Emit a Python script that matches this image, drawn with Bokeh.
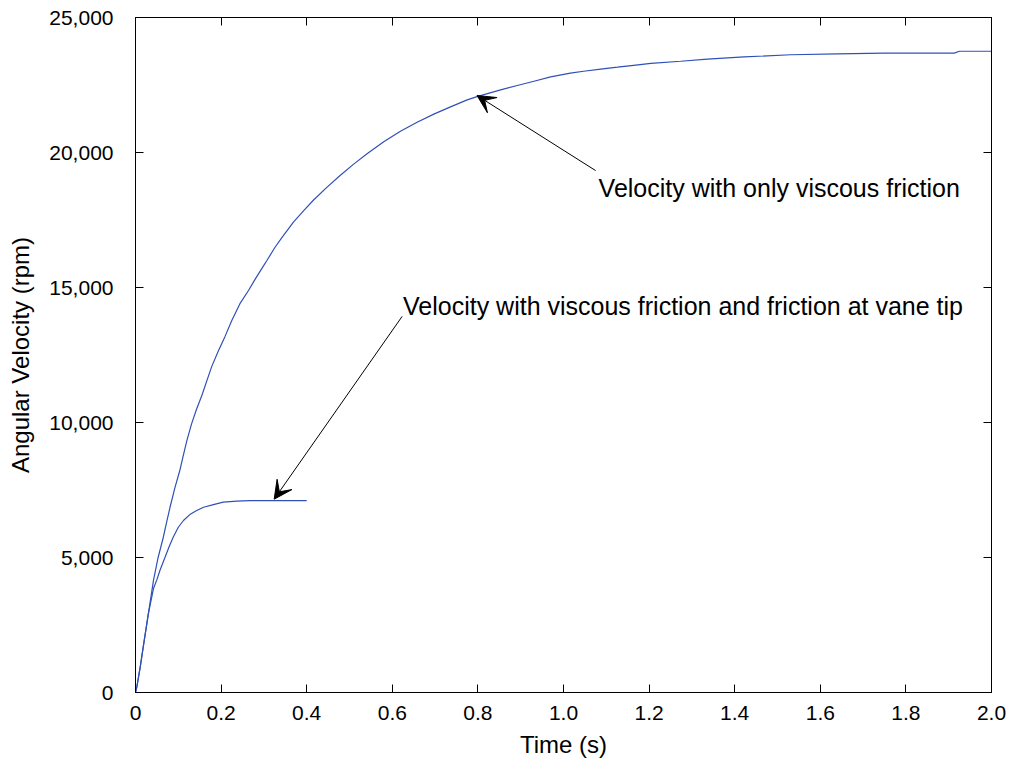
from bokeh.plotting import figure
from bokeh.models import (LinearAxis, FixedTicker, Range1d, Arrow, VeeHead, Label,
                          CustomJSTickFormatter)
from bokeh.embed import file_html
from bokeh.resources import INLINE

# ---- data ----
t_viscous = [0, 0.003, 0.011, 0.018, 0.030, 0.042, 0.053, 0.065, 0.073, 0.081, 0.092,
             0.104, 0.112, 0.120, 0.131, 0.143, 0.155, 0.167, 0.178, 0.194, 0.209,
             0.225, 0.244, 0.264, 0.280, 0.295, 0.307, 0.326, 0.342, 0.369, 0.393,
             0.416, 0.447, 0.478, 0.509, 0.541, 0.580, 0.619, 0.658, 0.697, 0.736,
             0.775, 0.798, 0.853, 0.892, 0.931, 0.970, 1.016, 1.047, 1.087, 1.126,
             1.164, 1.204, 1.274, 1.336, 1.422, 1.531, 1.640, 1.749, 1.913, 1.925, 2.0]
v_viscous = [0, 200, 940, 1680, 2910, 4150, 5010, 5750, 6330, 6880, 7580,
             8250, 8800, 9330, 9950, 10510, 11000, 11560, 12070, 12670, 13180,
             13780, 14400, 14890, 15320, 15700, 16000, 16490, 16850, 17420, 17850,
             18240, 18710, 19150, 19560, 19950, 20400, 20790, 21120, 21420, 21690,
             21950, 22070, 22320, 22480, 22640, 22800, 22940, 23010, 23090, 23160,
             23230, 23300, 23380, 23460, 23540, 23620, 23650, 23680, 23680, 23750, 23750]

t_vane = [0, 0.003, 0.011, 0.018, 0.030, 0.042, 0.050, 0.057, 0.069, 0.079, 0.088,
          0.100, 0.112, 0.127, 0.143, 0.159, 0.182, 0.205, 0.237, 0.268, 0.4]
v_vane = [0, 200, 940, 1680, 2910, 3850, 4180, 4520, 5010, 5420, 5750,
          6120, 6370, 6590, 6740, 6860, 6960, 7050, 7090, 7110, 7110]

x_ticks = [0, 0.2, 0.4, 0.6, 0.8, 1.0, 1.2, 1.4, 1.6, 1.8, 2.0]
x_tick_labels = ["0", "0.2", "0.4", "0.6", "0.8", "1.0", "1.2", "1.4", "1.6", "1.8", "2.0"]
y_ticks = [0, 5000, 10000, 15000, 20000, 25000]
y_tick_labels = ["0", "5,000", "10,000", "15,000", "20,000", "25,000"]

ann_texts = ["Velocity with only viscous friction",
             "Velocity with viscous friction and friction at vane tip"]
ann_text_x = [1.082, 0.625]
ann_text_y = [18700, 14300]
arrow_start_x = [1.075, 0.623]
arrow_start_y = [19330, 13930]
arrow_end_x = [0.798, 0.324]
arrow_end_y = [22110, 7160]

FONT = "Liberation Sans"
LINE_COLOR = "#3050b8"

p = figure(width=1011, height=764, output_backend="svg", toolbar_location=None,
           x_range=Range1d(0, 2), y_range=Range1d(0, 25000),
           min_border_left=135, min_border_right=20, min_border_top=17, min_border_bottom=72)
p.background_fill_color = "white"
p.border_fill_color = "white"
p.xgrid.visible = False
p.ygrid.visible = False
p.outline_line_color = "black"
p.outline_line_width = 1

p.line(t_viscous, v_viscous, line_color=LINE_COLOR, line_width=1.2)
p.line(t_vane, v_vane, line_color=LINE_COLOR, line_width=1.2)

xt = FixedTicker(ticks=x_ticks, minor_ticks=[])
yt = FixedTicker(ticks=y_ticks, minor_ticks=[])

def style_axis(ax):
    ax.major_tick_in = 8
    ax.major_tick_out = 0
    ax.minor_tick_in = 0
    ax.minor_tick_out = 0
    ax.axis_line_color = "black"
    ax.axis_line_width = 1
    ax.major_tick_line_color = "black"
    ax.major_label_text_font = FONT
    ax.major_label_text_font_size = "21px"
    ax.major_label_text_color = "black"
    ax.axis_label_text_font = FONT
    ax.axis_label_text_font_size = "24px"
    ax.axis_label_text_font_style = "normal"
    ax.axis_label_text_color = "black"

xa = p.xaxis[0]
xa.ticker = xt
xa.major_label_overrides = {k: v for k, v in zip(x_ticks, x_tick_labels)}
style_axis(xa)
xa.axis_label = "Time (s)"
xa.major_label_standoff = 13
xa.axis_label_standoff = 8

ya = p.yaxis[0]
ya.ticker = yt
ya.major_label_overrides = {k: v for k, v in zip(y_ticks, y_tick_labels)}
style_axis(ya)
ya.axis_label = "Angular Velocity (rpm)"
ya.major_label_standoff = 22
ya.axis_label_standoff = 12

empty = CustomJSTickFormatter(code='return "";')
top = LinearAxis(ticker=FixedTicker(ticks=x_ticks, minor_ticks=[]), formatter=empty)
style_axis(top)
top.major_label_standoff = 0
top.major_label_text_font_size = "1px"
right = LinearAxis(ticker=FixedTicker(ticks=y_ticks, minor_ticks=[]), formatter=empty)
style_axis(right)
right.major_label_standoff = 0
right.major_label_text_font_size = "1px"
p.add_layout(top, "above")
p.add_layout(right, "right")

for i in range(2):
    p.add_layout(Arrow(end=VeeHead(size=18, fill_color="black", line_color="black"),
                       x_start=arrow_start_x[i], y_start=arrow_start_y[i],
                       x_end=arrow_end_x[i], y_end=arrow_end_y[i],
                       line_color="black", line_width=1))
    p.add_layout(Label(x=ann_text_x[i], y=ann_text_y[i], text=ann_texts[i],
                       text_font=FONT, text_font_size="25px", text_color="black",
                       text_baseline="middle", text_align="left"))

open("out.html", "w").write(file_html(p, INLINE))
